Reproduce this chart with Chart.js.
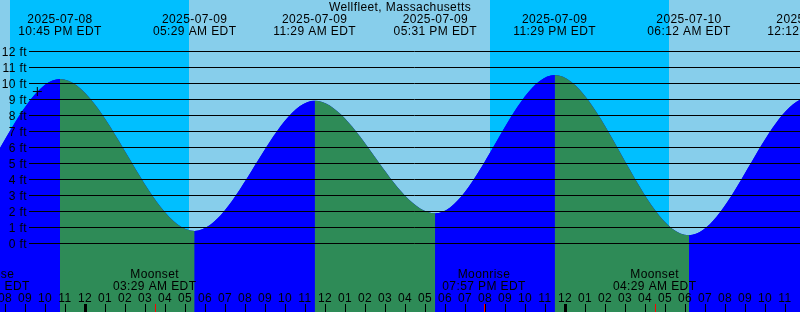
<!DOCTYPE html>
<html><head><meta charset="utf-8">
<script src="https://cdn.jsdelivr.net/npm/chart.js@4.4.1/dist/chart.umd.min.js"></script>
<style>html,body{margin:0;padding:0;background:#87CEEB;overflow:hidden}#wrap{width:800px;height:312px}</style>
</head><body><div id="wrap"><canvas id="c" width="800" height="312"></canvas></div>
<script>
// ---- data ----
const stationName = 'Wellfleet, Massachusetts';
const tideDates   = ['2025-07-08','2025-07-08','2025-07-08','2025-07-09','2025-07-09','2025-07-09','2025-07-09','2025-07-10','2025-07-10','2025-07-10'];
const tideTimes   = ['10:15 AM','04:33 PM','10:45 PM','05:29 AM','11:29 AM','05:31 PM','11:29 PM','06:12 AM','12:12 PM','06:20 PM'];
const tideHeights = [8.8, 1.2, 10.27, 0.77, 8.9, 1.87, 10.52, 0.5, 9.1, 1.7];

const nightStartDates = ['2025-07-08','2025-07-09'];
const nightStartTimes = ['08:15 PM','08:15 PM'];
const nightEndDates   = ['2025-07-09','2025-07-10'];
const nightEndTimes   = ['05:12 AM','05:11 AM'];

const moonDates = ['2025-07-08','2025-07-09','2025-07-09','2025-07-10'];
const moonTimes = ['07:09 PM','03:29 AM','07:57 PM','04:29 AM'];
const moonKinds = ['Moonrise','Moonset','Moonrise','Moonset'];

const markDates = ['2025-07-08'];
const markTimes = ['09:37 PM'];
const markHeights = [9.48];

const levelTicks = [0,1,2,3,4,5,6,7,8,9,10,11,12];
const hourTickStart = ['2025-07-08','08:00 PM'];
const hourLabels = ['08','09','10','11','12','01','02','03','04','05','06','07',
                    '08','09','10','11','12','01','02','03','04','05','06','07',
                    '08','09','10','11','12','01','02','03','04','05','06','07',
                    '08','09','10','11'];

const viewStart = ['2025-07-08','07:45 PM'];
const viewHours = 40;
const levelMin = -4.3, levelMax = 15.2;

// ---- colours ----
const dayColor = '#87CEEB', nightColor = '#00BFFF';
const floodColor = '#0000FF', ebbColor = '#2E8B57';
const FONT = '12px "Liberation Sans", Arial, Helvetica, sans-serif';

function toHours(d, t){
  const [Y,M,D] = d.split('-').map(Number);
  const m = t.match(/(\d+):(\d+)\s*(AM|PM)/);
  const hh = (+m[1]) % 12 + (m[3] === 'PM' ? 12 : 0);
  return (Date.UTC(Y,M-1,D) - Date.UTC(2025,6,9)) / 3600000 + hh + (+m[2]) / 60;
}

const tidePoints = tideDates.map((d,i) => ({x: toHours(d, tideTimes[i]), y: tideHeights[i]}));
const markPoints = markDates.map((d,i) => ({x: toHours(d, markTimes[i]), y: markHeights[i]}));
const xMin = toHours(viewStart[0], viewStart[1]);
const xMax = xMin + viewHours;

const deco = {
  id: 'tideDeco',
  beforeDatasetsDraw(chart){
    const {ctx, chartArea:{left,right,top,bottom}, scales:{x}} = chart;
    ctx.save();
    ctx.fillStyle = dayColor;
    ctx.fillRect(left, top, right-left, bottom-top);
    ctx.fillStyle = nightColor;
    for (let i = 0; i < nightStartDates.length; i++){
      const x1 = Math.round(x.getPixelForValue(toHours(nightStartDates[i], nightStartTimes[i])));
      const x2 = Math.round(x.getPixelForValue(toHours(nightEndDates[i], nightEndTimes[i])));
      ctx.fillRect(x1, top, x2-x1, bottom-top);
    }
    ctx.restore();
  },
  afterDatasetsDraw(chart){
    const {ctx, chartArea:{left,right,top,bottom}, scales:{x,y}} = chart;
    ctx.save();
    ctx.font = FONT;
    try { ctx.letterSpacing = '0.4px'; } catch(e) {}
    ctx.fillStyle = '#000';
    ctx.strokeStyle = '#000';
    ctx.lineWidth = 1;
    // level lines + labels
    ctx.textAlign = 'right';
    ctx.textBaseline = 'alphabetic';
    levelTicks.forEach(v => {
      const py = Math.round(y.getPixelForValue(v));
      ctx.beginPath();
      ctx.moveTo(left + 29, py + 0.5);
      ctx.lineTo(right, py + 0.5);
      ctx.stroke();
      ctx.fillText(v + ' ft', left + 27, py + 5);
    });
    // title
    ctx.textAlign = 'center';
    ctx.fillText(stationName, (left+right)/2, top + 11);
    // tide event labels
    tideDates.forEach((d,i) => {
      const px = x.getPixelForValue(toHours(d, tideTimes[i]));
      ctx.fillText(d, px, top + 23);
      ctx.fillText(tideTimes[i] + ' EDT', px, top + 35);
    });
    // moon events
    moonDates.forEach((d,i) => {
      const px = x.getPixelForValue(toHours(d, moonTimes[i]));
      ctx.fillText(moonKinds[i], px, 278);
      ctx.fillText(moonTimes[i] + ' EDT', px, 290);
    });
    // hour labels + ticks
    const h0 = toHours(hourTickStart[0], hourTickStart[1]);
    hourLabels.forEach((lab,k) => {
      const h = h0 + k;
      const px = Math.round(x.getPixelForValue(h));
      ctx.fillText(lab, px, 302);
      const midnight = ((h % 24) + 24) % 24 === 0;
      if (midnight) ctx.fillRect(px - 1, 304, 3, bottom - 304);
      else ctx.fillRect(px, 304, 1, bottom - 304);
    });
    // moon ticks
    ctx.fillStyle = '#FF0000';
    moonDates.forEach((d,i) => {
      const px = Math.round(x.getPixelForValue(toHours(d, moonTimes[i])));
      ctx.fillRect(px, 304, 1, bottom - 304);
    });
    ctx.restore();
  }
};

new Chart(document.getElementById('c'), {
  type: 'line',
  data: {
    datasets: [
      {
        label: 'mark',
        data: markPoints,
        showLine: false,
        pointStyle: 'cross',
        pointRadius: 4.5,
        pointHoverRadius: 4.5,
        pointBorderColor: '#000',
        pointBorderWidth: 1,
        order: 0
      },
      {
        label: 'tide',
        data: tidePoints,
        cubicInterpolationMode: 'monotone',
        borderWidth: 0,
        borderColor: 'rgba(0,0,0,0)',
        pointRadius: 0,
        pointHoverRadius: 0,
        fill: 'start',
        backgroundColor: floodColor,
        segment: {
          backgroundColor: c => (c.p1.parsed.y >= c.p0.parsed.y ? floodColor : ebbColor)
        },
        order: 1
      },
      {
        label: 'tide-base',
        data: tidePoints,
        cubicInterpolationMode: 'monotone',
        borderWidth: 0,
        borderColor: 'rgba(0,0,0,0)',
        pointRadius: 0,
        pointHoverRadius: 0,
        fill: 'start',
        backgroundColor: floodColor,
        order: 2
      }
    ]
  },
  options: {
    responsive: false,
    animation: false,
    devicePixelRatio: 1,
    events: [],
    layout: { padding: 0, autoPadding: false },
    plugins: { legend: { display: false }, tooltip: { enabled: false }, title: { display: false } },
    scales: {
      x: { type: 'linear', min: xMin, max: xMax, display: false },
      y: { type: 'linear', min: levelMin, max: levelMax, display: false }
    }
  },
  plugins: [deco]
});
</script>
</body></html>
